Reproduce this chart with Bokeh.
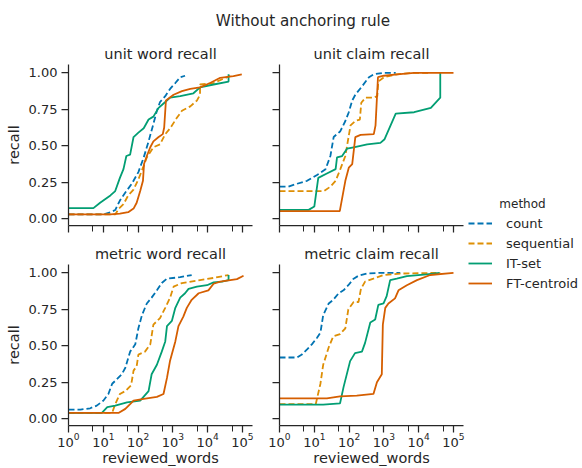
from bokeh.plotting import figure
from bokeh.layouts import column, row
from bokeh.models import (Range1d, FixedTicker, NumeralTickFormatter,
                          CustomJSTickFormatter, Legend, LegendItem)
from bokeh.core.properties import value
from bokeh.embed import file_html
from bokeh.resources import INLINE

FONT = "DejaVu Sans"
INK = "#262626"

methods = ["count", "sequential", "IT-set", "FT-centroid"]
colors = ["#0173b2", "#de8f05", "#029e73", "#d55e00"]
dashes = ["6 3", "6 3", "solid", "solid"]

x_ticks = [1, 10, 100, 1000, 10000, 100000]
x_minor_ticks = [5, 50, 500, 5000, 50000]
y_ticks = [0, 0.25, 0.5, 0.75, 1.0]

suptitle = "Without anchoring rule"
panel_titles = ["unit word recall", "unit claim recall",
                "metric word recall", "metric claim recall"]
x_label = "reviewed_words"
y_label = "recall"
legend_title = "method"

# ---- unit word recall ----
uw_count_x = [1, 10, 16, 22, 30, 43, 66, 102, 145, 200, 275, 347, 427, 603, 832, 1175, 1622, 2239]
uw_count_y = [0.03, 0.03, 0.045, 0.06, 0.125, 0.18, 0.24, 0.32, 0.42, 0.53, 0.65, 0.74, 0.80, 0.84, 0.89, 0.93, 0.97, 0.98]
uw_seq_x = [1, 22, 28, 38, 52, 74, 102, 138, 178, 275, 427, 603, 832, 1288, 1820, 3162, 4898, 6026, 6026, 14791, 44668]
uw_seq_y = [0.03, 0.03, 0.07, 0.10, 0.16, 0.20, 0.27, 0.35, 0.42, 0.49, 0.51, 0.58, 0.62, 0.69, 0.74, 0.77, 0.81, 0.85, 0.92, 0.93, 0.98]
uw_it_x = [1, 5.2, 8.1, 16, 22, 30, 38, 46, 59, 74, 102, 145, 200, 275, 389, 603, 832, 1622, 3890, 6026, 14791, 39811, 39811]
uw_it_y = [0.073, 0.073, 0.11, 0.16, 0.19, 0.28, 0.34, 0.43, 0.44, 0.56, 0.59, 0.62, 0.68, 0.70, 0.76, 0.80, 0.83, 0.84, 0.86, 0.90, 0.92, 0.94, 0.99]
uw_ft_x = [1, 16, 30, 52, 74, 91, 115, 138, 148, 178, 224, 275, 389, 513, 562, 631, 1047, 1820, 3162, 6026, 11749, 22909, 54954, 95499]
uw_ft_y = [0.03, 0.03, 0.035, 0.045, 0.07, 0.11, 0.19, 0.26, 0.375, 0.43, 0.49, 0.53, 0.56, 0.58, 0.625, 0.81, 0.85, 0.875, 0.89, 0.90, 0.93, 0.966, 0.977, 0.99]

# ---- unit claim recall ----
uc_count_x = [1, 1.8, 3.2, 6.2, 12, 21, 29, 36, 56, 78, 98, 123, 151, 240, 372, 513, 1000, 2188]
uc_count_y = [0.22, 0.22, 0.24, 0.26, 0.30, 0.34, 0.43, 0.56, 0.60, 0.67, 0.73, 0.81, 0.85, 0.91, 0.97, 0.99, 1.0, 1.0]
uc_seq_x = [1, 19, 29, 41, 56, 78, 110, 151, 204, 224, 295, 513, 646, 692, 1000, 2399, 7413, 19953]
uc_seq_y = [0.19, 0.19, 0.22, 0.26, 0.34, 0.43, 0.64, 0.67, 0.68, 0.795, 0.83, 0.83, 0.84, 0.94, 0.97, 0.99, 1.0, 1.0]
uc_it_x = [1, 6.9, 10, 13, 23, 41, 45, 63, 87, 135, 331, 794, 1047, 2188, 7413, 22387, 41687, 41687]
uc_it_y = [0.061, 0.061, 0.084, 0.28, 0.31, 0.34, 0.42, 0.43, 0.48, 0.49, 0.51, 0.52, 0.545, 0.72, 0.73, 0.76, 0.83, 1.0]
uc_ft_x = [1, 54, 78, 98, 123, 151, 214, 513, 575, 676, 1000, 2399, 7413, 100000]
uc_ft_y = [0.052, 0.052, 0.26, 0.35, 0.375, 0.56, 0.575, 0.58, 0.64, 0.97, 0.98, 0.99, 1.0, 1.0]

# ---- metric word recall ----
mw_count_x = [1, 2.2, 4.2, 6.5, 10, 14, 18, 22, 34, 43, 59, 83, 102, 129, 178, 245, 347, 479, 676, 1622, 3467]
mw_count_y = [0.063, 0.063, 0.072, 0.09, 0.124, 0.17, 0.24, 0.26, 0.305, 0.35, 0.46, 0.51, 0.62, 0.71, 0.79, 0.83, 0.88, 0.93, 0.96, 0.97, 0.985]
mw_seq_x = [1, 18, 22, 30, 43, 63, 74, 91, 102, 158, 224, 275, 427, 603, 832, 1047, 1820, 6026, 14791, 39811]
mw_seq_y = [0.041, 0.041, 0.10, 0.17, 0.19, 0.23, 0.33, 0.36, 0.44, 0.46, 0.51, 0.645, 0.69, 0.76, 0.83, 0.905, 0.93, 0.95, 0.965, 0.985]
mw_it_x = [1, 9.1, 13, 22, 48, 115, 200, 245, 347, 479, 603, 676, 933, 1175, 1622, 2239, 2818, 4898, 9550, 14791, 25704, 39811, 39811]
mw_it_y = [0.041, 0.041, 0.08, 0.09, 0.113, 0.124, 0.19, 0.305, 0.37, 0.46, 0.53, 0.635, 0.67, 0.76, 0.83, 0.86, 0.89, 0.905, 0.915, 0.935, 0.94, 0.95, 0.985]
mw_ft_x = [1, 28, 43, 59, 74, 145, 347, 537, 676, 832, 1175, 1445, 1995, 2512, 3467, 5495, 10471, 14791, 22909, 69183, 107152]
mw_ft_y = [0.041, 0.041, 0.068, 0.10, 0.124, 0.136, 0.15, 0.17, 0.28, 0.40, 0.53, 0.635, 0.70, 0.76, 0.815, 0.86, 0.88, 0.925, 0.94, 0.957, 0.98]

# ---- metric claim recall ----
mc_count_x = [1, 3.2, 4.4, 6.2, 8.5, 12, 15, 18, 26, 35, 50, 69, 95, 135, 186, 324, 776, 2951]
mc_count_y = [0.42, 0.42, 0.44, 0.475, 0.51, 0.555, 0.59, 0.71, 0.79, 0.815, 0.86, 0.88, 0.915, 0.96, 0.98, 0.995, 1.0, 1.0]
mc_seq_x = [1, 11, 15, 18, 26, 35, 55, 78, 95, 135, 186, 219, 288, 501, 977, 2951, 41687]
mc_seq_y = [0.10, 0.10, 0.24, 0.37, 0.49, 0.565, 0.58, 0.62, 0.75, 0.80, 0.80, 0.89, 0.94, 0.96, 0.985, 0.995, 1.0]
mc_it_x = [1, 18, 55, 69, 107, 148, 234, 288, 407, 562, 692, 977, 1202, 1514, 2344, 4571, 16982, 39811]
mc_it_y = [0.097, 0.097, 0.106, 0.215, 0.395, 0.45, 0.46, 0.52, 0.66, 0.68, 0.78, 0.79, 0.84, 0.95, 0.96, 0.977, 0.99, 1.0]
mc_ft_x = [1, 23, 55, 166, 501, 631, 871, 933, 1096, 1349, 2089, 2630, 4571, 8913, 21380, 100000]
mc_ft_y = [0.14, 0.14, 0.154, 0.158, 0.17, 0.25, 0.305, 0.645, 0.76, 0.79, 0.825, 0.88, 0.915, 0.95, 0.985, 1.0]

panel_data = [
    [(uw_count_x, uw_count_y), (uw_seq_x, uw_seq_y), (uw_it_x, uw_it_y), (uw_ft_x, uw_ft_y)],
    [(uc_count_x, uc_count_y), (uc_seq_x, uc_seq_y), (uc_it_x, uc_it_y), (uc_ft_x, uc_ft_y)],
    [(mw_count_x, mw_count_y), (mw_seq_x, mw_seq_y), (mw_it_x, mw_it_y), (mw_ft_x, mw_ft_y)],
    [(mc_count_x, mc_count_y), (mc_seq_x, mc_seq_y), (mc_it_x, mc_it_y), (mc_ft_x, mc_ft_y)],
]

BLANK = CustomJSTickFormatter(code="return ''")


def make_panel(title, series, show_ylab, show_xlab, width, height, mbl, mbr, mbt, mbb):
    p = figure(width=width, height=height, x_axis_type="log",
               x_range=Range1d(1, 1.94e5), y_range=Range1d(-0.046, 1.057),
               output_backend="svg", toolbar_location=None,
               min_border_left=mbl, min_border_right=mbr,
               min_border_top=mbt, min_border_bottom=mbb, title=title)
    p.title.align = "center"
    p.title.text_font = FONT
    p.title.text_font_size = "14.5px"
    p.title.text_font_style = "normal"
    p.title.text_color = INK
    p.title.standoff = 6
    p.outline_line_color = None
    p.xgrid.visible = False
    p.ygrid.visible = False
    for (xs, ys), c, d in zip(series, colors, dashes):
        p.line(xs, ys, line_color=c, line_width=1.8, line_dash=d)

    for ax in (p.xaxis[0], p.yaxis[0]):
        ax.axis_line_color = INK
        ax.axis_line_width = 1.25
        ax.major_tick_line_color = INK
        ax.major_tick_line_width = 1.25
        ax.minor_tick_line_color = INK
        ax.minor_tick_line_width = 1.0
        ax.major_tick_in = 0
        ax.major_tick_out = 7
        ax.minor_tick_in = 0
        ax.minor_tick_out = 6
        ax.major_label_text_font = FONT
        ax.major_label_text_font_size = "13px"
        ax.major_label_text_color = INK
        ax.axis_label_text_font = FONT
        ax.axis_label_text_font_size = "14.5px"
        ax.axis_label_text_font_style = "normal"
        ax.axis_label_text_color = INK

    p.xaxis.ticker = FixedTicker(ticks=x_ticks, minor_ticks=x_minor_ticks)
    p.yaxis.ticker = FixedTicker(ticks=y_ticks, minor_ticks=[])
    p.yaxis.minor_tick_line_color = None
    p.yaxis.major_label_standoff = 4
    p.xaxis.major_label_standoff = 0
    if show_ylab:
        p.yaxis.formatter = NumeralTickFormatter(format="0.00")
        p.yaxis.axis_label = y_label
        p.yaxis.axis_label_standoff = 4
    else:
        p.yaxis.formatter = BLANK
    if show_xlab:
        p.xaxis.axis_label = x_label
        p.xaxis.axis_label_standoff = 0
    else:
        p.xaxis.formatter = BLANK
    return p


tl = make_panel(panel_titles[0], panel_data[0], True, False, 264, 200, 68, 12, 23, 15)
tr = make_panel(panel_titles[1], panel_data[1], False, False, 202, 200, 15, 3, 23, 15)
bl = make_panel(panel_titles[2], panel_data[2], True, True, 264, 228, 68, 12, 23, 43)
br = make_panel(panel_titles[3], panel_data[3], False, True, 202, 228, 15, 3, 23, 43)

# Title strip
pt = figure(width=582, height=40, x_range=Range1d(0, 582), y_range=Range1d(0, 40),
            output_backend="svg", toolbar_location=None, min_border=0,
            x_axis_location=None, y_axis_location=None)
pt.outline_line_color = None
pt.grid.visible = False
pt.text(x=[302.5], y=[20], text=[suptitle], text_align="center",
        text_baseline="alphabetic", text_font=value(FONT),
        text_font_size="15.2px", text_color=INK)

# Legend strip (legend lines reuse series data that lies below the visible range)
pl = figure(width=116, height=428, x_range=Range1d(0, 116), y_range=Range1d(10, 438),
            output_backend="svg", toolbar_location=None, min_border=0,
            x_axis_location=None, y_axis_location=None)
pl.outline_line_color = None
pl.grid.visible = False
pl.text(x=[56], y=[275], text=[legend_title], text_align="center",
        text_baseline="middle", text_font=value(FONT),
        text_font_size="12px", text_color=INK)
items = []
for (xs, ys), m, c, d in zip(panel_data[0], methods, colors, dashes):
    r = pl.line(xs, ys, line_color=c, line_width=1.8, line_dash=d)
    items.append(LegendItem(label=m, renderers=[r]))
legend = Legend(items=items, location=(2, 175), glyph_width=24, glyph_height=20,
                label_height=20, label_standoff=14, spacing=0, padding=0, margin=0,
                border_line_color=None, background_fill_alpha=0,
                label_text_font=FONT, label_text_font_size="13px",
                label_text_color=INK)
pl.add_layout(legend)

layout = column(pt, row(column(tl, bl), column(tr, br), pl))
open("out.html", "w").write(file_html(layout, INLINE))
